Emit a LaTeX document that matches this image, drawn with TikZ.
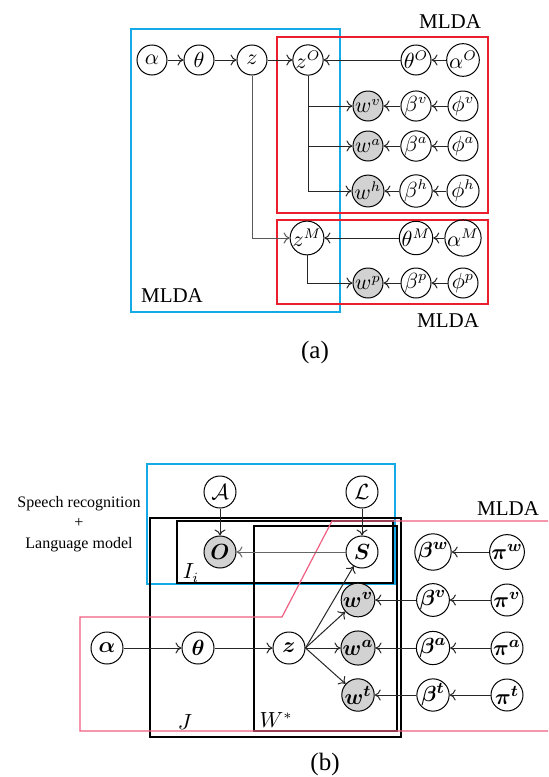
\documentclass[tikz,border=0pt]{standalone}
\usepackage{amsmath}
\usepackage{bm}
\usepackage{fontspec}
\setmainfont{Liberation Serif}
\usetikzlibrary{arrows.meta}
\definecolor{plateblue}{RGB}{20,170,230}
\definecolor{platered}{RGB}{235,30,45}
\definecolor{platepink}{RGB}{240,95,130}
\begin{document}
\begin{tikzpicture}[x=0.5pt,y=-0.5pt,
  var/.style={circle,draw,line width=0.5pt,minimum size=15pt,inner sep=0pt,font=\fontsize{10.5}{10}\selectfont},
  obs/.style={var,fill=gray!35},
  bvar/.style={circle,draw,line width=0.5pt,minimum size=16pt,inner sep=0pt,font=\fontsize{11}{10}\selectfont},
  bobs/.style={bvar,fill=gray!35},
  arr/.style={-{To[length=3pt,width=5.5pt]},line width=0.5pt,black!85},
  plate/.style={line width=0.6pt},
  lbl/.style={inner sep=0pt,font=\fontsize{10.5}{12}\selectfont},
  captxt/.style={inner sep=0pt,font=\fontsize{12.5}{14}\selectfont}]
\useasboundingbox (0,0) rectangle (548,777);
\fill[white] (0,0) rectangle (548,777);

% ---------------- (a) ----------------
\draw[plate,plateblue] (131,29) rectangle (340,312);
\draw[plate,platered] (277,37) rectangle (488,213);
\draw[plate,platered] (277,220) rectangle (488,304);

\node[lbl] (mA1) at (450,22) {MLDA};
\node[lbl] (mA2) at (172,296) {MLDA};
\node[lbl] (mA3) at (448,321) {MLDA};
\node[captxt] (capa) at (315,352) {(a)};

\node[var] (al) at (152,60) {$\alpha$};
\node[var] (th) at (199,60) {$\theta$};
\node[var] (z) at (252,60) {$z$};
\node[var] (zO) at (308,60) {$z^{O}$};
\node[var] (thO) at (416,60) {$\theta^{O}$};
\node[var] (alO) at (463,60) {$\alpha^{O}$};

\node[obs] (wv) at (368,106) {$w^{v}$};
\node[var] (bv) at (416,106) {$\beta^{v}$};
\node[var] (pv) at (463,106) {$\phi^{v}$};
\node[obs] (wa) at (368,146) {$w^{a}$};
\node[var] (ba) at (416,146) {$\beta^{a}$};
\node[var] (pa) at (463,146) {$\phi^{a}$};
\node[obs] (wh) at (368,191) {$w^{h}$};
\node[var] (bh) at (416,191) {$\beta^{h}$};
\node[var] (ph) at (463,191) {$\phi^{h}$};

\node[var] (zM) at (307,238) {$z^{M}$};
\node[var] (thM) at (416,238) {$\theta^{M}$};
\node[var] (alM) at (463,238) {$\alpha^{M}$};
\node[obs] (wp) at (368,283) {$w^{p}$};
\node[var] (bp) at (416,283) {$\beta^{p}$};
\node[var] (pp) at (463,283) {$\phi^{p}$};

\draw[arr] (al) -- (th);
\draw[arr] (th) -- (z);
\draw[arr] (z) -- (zO);
\draw[arr] (thO) -- (zO);
\draw[arr] (alO) -- (thO);
\draw[arr] (zO.south) |- (wv);
\draw[arr] (zO.south) |- (wa);
\draw[arr] (zO.south) |- (wh);
\draw[arr] (bv) -- (wv);
\draw[arr] (pv) -- (bv);
\draw[arr] (ba) -- (wa);
\draw[arr] (pa) -- (ba);
\draw[arr] (bh) -- (wh);
\draw[arr] (ph) -- (bh);
\draw[arr,black!65] (z.south) |- (zM);
\draw[arr] (thM) -- (zM);
\draw[arr] (alM) -- (thM);
\draw[arr] (zM.south) |- (wp);
\draw[arr] (bp) -- (wp);
\draw[arr] (pp) -- (bp);

% ---------------- (b) ----------------
\draw[plate,plateblue] (147,464) rectangle (395,584);
\draw[line width=0.8pt] (150,518) rectangle (401,737);
\draw[plate] (177,521) rectangle (393,583);
\draw[plate] (254,526) rectangle (397,731);
\draw[plate,platepink] (548,521) -- (332,521) -- (282,617) -- (80,617) -- (80,731) -- (548,731);

\node[lbl] (mB) at (508,509) {MLDA};
\node[inner sep=0pt,font=\fontsize{8}{9}\selectfont] (sr) at (79,504) {Speech recognition};
\node[inner sep=0pt,font=\fontsize{8}{9}\selectfont] (plus) at (79,523) {+};
\node[inner sep=0pt,font=\fontsize{8}{9}\selectfont] (lm) at (79,545) {Language model};
\node[lbl] (Jl) at (185,722) {$J$};
\node[lbl] (Wl) at (276,720) {$W^{*}$};
\node[lbl] (Il) at (191,573) {$I_i$};
\node[captxt] (capb) at (325,764) {(b)};

\node[bvar] (A) at (220,492) {$\mathcal{A}$};
\node[bvar] (L) at (362,492) {$\mathcal{L}$};
\node[bobs] (O) at (220,552) {$\bm{O}$};
\node[bvar] (S) at (362,552) {$\bm{S}$};
\node[bvar] (bw) at (433,552) {$\bm{\beta}^{\bm{w}}$};
\node[bvar] (pw) at (507,552) {$\bm{\pi}^{\bm{w}}$};

\node[bobs] (bwv) at (358,600) {$\bm{w}^{\bm{v}}$};
\node[bvar] (bbv) at (433,600) {$\bm{\beta}^{\bm{v}}$};
\node[bvar] (bpv) at (507,600) {$\bm{\pi}^{\bm{v}}$};

\node[bvar] (bal) at (107,648) {$\bm{\alpha}$};
\node[bvar] (bth) at (198,648) {$\bm{\theta}$};
\node[bvar] (bz) at (289,648) {$\bm{z}$};
\node[bobs] (bwa) at (358,648) {$\bm{w}^{\bm{a}}$};
\node[bvar] (bba) at (433,648) {$\bm{\beta}^{\bm{a}}$};
\node[bvar] (bpa) at (507,648) {$\bm{\pi}^{\bm{a}}$};

\node[bobs] (bwt) at (358,695) {$\bm{w}^{\bm{t}}$};
\node[bvar] (bbt) at (433,695) {$\bm{\beta}^{\bm{t}}$};
\node[bvar] (bpt) at (507,695) {$\bm{\pi}^{\bm{t}}$};

\draw[arr] (A) -- (O);
\draw[arr] (L) -- (S);
\draw[arr,black!60] (S) -- (O);
\draw[arr] (pw) -- (bw);
\draw[arr] (bal) -- (bth);
\draw[arr] (bth) -- (bz);
\draw[arr] (bz.east) -- (S);
\draw[arr] (bz.east) -- (bwv);
\draw[arr] (bz.east) -- (bwa);
\draw[arr] (bz.east) -- (bwt);
\draw[arr] (bbv) -- (bwv);
\draw[arr] (bpv) -- (bbv);
\draw[arr] (bba) -- (bwa);
\draw[arr] (bpa) -- (bba);
\draw[arr] (bbt) -- (bwt);
\draw[arr] (bpt) -- (bbt);
\end{tikzpicture}
\end{document}
